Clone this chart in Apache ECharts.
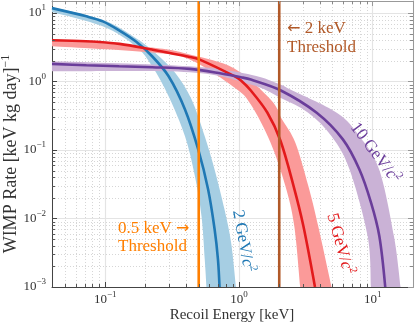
<!DOCTYPE html>
<html>
<head>
<meta charset="utf-8">
<script src="https://cdn.jsdelivr.net/npm/echarts@6.0.0/dist/echarts.min.js"></script>
<style>
html,body{margin:0;padding:0;background:#ffffff;}
#chart{width:415px;height:324px;}
</style>
</head>
<body>
<div id="chart"></div>
<script>
// ---------- values ----------
const X_MIN = 0.04, X_MAX = 20, Y_MIN = 0.001, Y_MAX = 15;
const xMinorTicks = [0.05,0.06,0.07,0.08,0.09,0.2,0.3,0.4,0.5,0.6,0.7,0.8,0.9,2,3,4,5,6,7,8,9];
const yMinorTicks = [0.002,0.003,0.004,0.005,0.006,0.007,0.008,0.009,
                     0.02,0.03,0.04,0.05,0.06,0.07,0.08,0.09,
                     0.2,0.3,0.4,0.5,0.6,0.7,0.8,0.9,
                     2,3,4,5,6,7,8,9];
const thresholds = [0.5, 2];

// 2 GeV/c^2
const blueE = [0.04, 0.0722, 0.0958, 0.127, 0.1688, 0.2242, 0.2977, 0.3948, 0.4956, 0.5875, 0.6573, 0.6963, 0.7154];
const blueR = [11.8, 8.95, 7.57, 5.6, 3.87, 2.34, 1.195, 0.391, 0.102, 0.0267, 0.00696, 0.00254, 0.001];
const blueHiE = [0.04, 0.0958, 0.1688, 0.237, 0.333, 0.4424, 0.5546, 0.657, 0.779, 0.873, 0.950];
const blueHiR = [12.2, 8.0, 4.34, 2.62, 1.34, 0.546, 0.159, 0.0521, 0.0136, 0.00445, 0.001];
const blueLoE = [0.04, 0.0958, 0.1688, 0.2242, 0.2977, 0.3948, 0.468, 0.5243, 0.5546, 0.571];
const blueLoR = [10.4, 6.4, 3.27, 1.67, 0.611, 0.159, 0.0416, 0.0109, 0.00254, 0.001];

// 5 GeV/c^2
const redE = [0.04, 0.0718, 0.128, 0.224, 0.43, 0.509, 0.923, 1.035, 1.226, 1.628, 2.04, 2.56, 3.03, 3.70];
const redR = [4.0, 3.87, 3.55, 2.93, 2.29, 2.09, 1.2, 1.034, 0.739, 0.353, 0.138, 0.0298, 0.00778, 0.001];
const redHiE = [0.04, 0.224, 0.428, 0.923, 1.723, 2.10, 2.64, 3.30, 3.91, 4.92];
const redHiR = [4.19, 3.13, 2.48, 1.55, 0.546, 0.279, 0.128, 0.0298, 0.00778, 0.001];
const redLoE = [0.04, 0.224, 0.428, 0.923, 1.226, 1.723, 2.223, 2.59, 2.87];
const redLoR = [3.27, 2.65, 2.09, 0.818, 0.462, 0.128, 0.0298, 0.00778, 0.001];

// 10 GeV/c^2
const purpleE = [0.04, 0.0723, 0.127, 0.224, 0.428, 0.736, 1.035, 1.226, 2.04, 3.81, 5.98, 7.95, 9.71, 11.2, 12.4];
const purpleR = [1.81, 1.73, 1.67, 1.62, 1.53, 1.31, 1.155, 1.07, 0.747, 0.35, 0.143, 0.0521, 0.0171, 0.00556, 0.001];
const purpleHiE = [0.04, 0.428, 1.226, 2.04, 2.42, 5.38, 7.95, 11.17, 14.4, 16.15];
const purpleHiR = [1.98, 1.67, 1.26, 0.904, 0.764, 0.35, 0.159, 0.0521, 0.00556, 0.001];
const purpleLoE = [0.04, 0.428, 1.226, 2.04, 3.29, 4.92, 6.71, 9.16, 9.70];
const purpleLoR = [1.41, 1.37, 0.904, 0.579, 0.35, 0.159, 0.0521, 0.00556, 0.001];

// ---------- styling ----------
const FONT = "'Liberation Serif', 'Times New Roman', serif";
const ARROW_FONT = "'DejaVu Sans', sans-serif";
const TXT = '#333333';
const C = {
  blue: '#1f78b4', blueBand: '#a6cee3',
  red: '#e31a1c', redBand: '#fb9a99',
  purple: '#6a3d9a', purpleBand: '#cab2d6',
  orange: '#ff7f00', brown: '#b15928'
};

const zip = (a, b) => a.map((v, i) => [v, b[i]]);

function smoothSegs(pts) {
  let d = '';
  for (let i = 0; i < pts.length - 1; i++) {
    const p0 = pts[Math.max(i - 1, 0)], p1 = pts[i], p2 = pts[i + 1], p3 = pts[Math.min(i + 2, pts.length - 1)];
    const c1 = [p1[0] + (p2[0] - p0[0]) / 6, p1[1] + (p2[1] - p0[1]) / 6];
    const c2 = [p2[0] - (p3[0] - p1[0]) / 6, p2[1] - (p3[1] - p1[1]) / 6];
    d += ' C' + c1[0] + ',' + c1[1] + ' ' + c2[0] + ',' + c2[1] + ' ' + p2[0] + ',' + p2[1];
  }
  return d;
}
function bandSeries(hiE, hiR, loE, loR, color) {
  return {
    type: 'custom', coordinateSystem: 'cartesian2d', z: 2, silent: true, clip: true,
    data: [[1, 1]],
    renderItem: function (params, api) {
      const hi = hiE.map((e, i) => api.coord([e, hiR[i]]));
      const lo = loE.map((e, i) => api.coord([e, loR[i]])).reverse();
      const d = 'M' + hi[0][0] + ',' + hi[0][1] + smoothSegs(hi) +
                ' L' + lo[0][0] + ',' + lo[0][1] + smoothSegs(lo) + ' Z';
      return { type: 'path', shape: { pathData: d }, style: { fill: color, stroke: null } };
    }
  };
}
function curveSeries(name, E, R, color) {
  return {
    name: name, type: 'line', data: zip(E, R), smooth: 0.33, showSymbol: false, symbol: 'none',
    z: 3, silent: true, clip: true, lineStyle: { color: color, width: 2.6 }
  };
}
function thresholdSeries(x, color) {
  return {
    type: 'line', data: [[x, Y_MIN], [x, Y_MAX]], showSymbol: false, symbol: 'none',
    z: 4, silent: true, lineStyle: { color: color, width: 2.6 }
  };
}
function seg(x1, y1, x2, y2, color, dash) {
  return { type: 'line', shape: { x1: x1, y1: y1, x2: x2, y2: y2 },
           style: { stroke: color, lineWidth: 1, lineDash: dash || null } };
}
const minorGrid = {
  type: 'custom', coordinateSystem: 'cartesian2d', z: 1, silent: true, data: [[1, 1]],
  renderItem: function (params, api) {
    const ch = [];
    xMinorTicks.forEach(v => {
      const b = api.coord([v, Y_MIN]), t = api.coord([v, Y_MAX]);
      ch.push(seg(Math.round(b[0]) + 0.5, b[1], Math.round(t[0]) + 0.5, t[1], '#d6d6d6', [1, 2]));
    });
    yMinorTicks.forEach(v => {
      const l = api.coord([X_MIN, v]), r = api.coord([X_MAX, v]);
      ch.push(seg(l[0], Math.round(l[1]) + 0.5, r[0], Math.round(r[1]) + 0.5, '#d6d6d6', [1, 2]));
    });
    return { type: 'group', children: ch };
  }
};
const minorTicks = {
  type: 'custom', coordinateSystem: 'cartesian2d', z: 6, silent: true, data: [[1, 1]],
  renderItem: function (params, api) {
    const ch = [], L = 3;
    xMinorTicks.forEach(v => {
      const b = api.coord([v, Y_MIN]), t = api.coord([v, Y_MAX]);
      const x = Math.round(b[0]) + 0.5;
      ch.push(seg(x, b[1], x, b[1] - L, '#555'));
      ch.push(seg(x, t[1], x, t[1] + L, '#888'));
    });
    yMinorTicks.forEach(v => {
      const l = api.coord([X_MIN, v]), r = api.coord([X_MAX, v]);
      const y = Math.round(l[1]) + 0.5;
      ch.push(seg(l[0], y, l[0] + L, y, '#555'));
      ch.push(seg(r[0], y, r[0] - L, y, '#888'));
    });
    return { type: 'group', children: ch };
  }
};

function powLabel(v) {
  const k = Math.round(Math.log10(v));
  if (Math.abs(Math.log10(v) - k) > 1e-6) return '';
  return '{b|10}{s|' + (k < 0 ? '\u2212' + (-k) : k) + '}';
}
const labelRich = {
  b: { fontSize: 13, lineHeight: 19, fontFamily: FONT, color: TXT },
  s: { fontSize: 9, lineHeight: 5, verticalAlign: 'top', fontFamily: FONT, color: TXT }
};
const annRich = (color) => ({
  a: { fontSize: 17, lineHeight: 22, fontFamily: FONT, fill: color },
  i: { fontSize: 17, lineHeight: 22, fontFamily: FONT, fontStyle: 'italic', fill: color },
  s: { fontSize: 11, lineHeight: 6, verticalAlign: 'top', fontFamily: FONT, fill: color },
  r: { fontSize: 16, lineHeight: 22, fontFamily: ARROW_FONT, fill: color }
});

const chart = echarts.init(document.getElementById('chart'), null, { renderer: 'canvas' });
chart.setOption({
  animation: false,
  backgroundColor: '#ffffff',
  grid: { left: 52, right: 2, top: 1, bottom: 37, containLabel: false, outerBoundsMode: 'none' },
  xAxis: [{
    type: 'log', logBase: 10, min: X_MIN, max: X_MAX, position: 'bottom',
    axisLine: { show: true, onZero: false, lineStyle: { color: '#444', width: 1 } },
    axisTick: { show: true, inside: true, length: 5, lineStyle: { color: '#444' } },
    axisLabel: { formatter: powLabel, rich: labelRich, margin: 3, showMinLabel: false, showMaxLabel: false },
    splitLine: { show: true, lineStyle: { color: '#e4e4e4', width: 1.2 } }
  }, {
    type: 'log', logBase: 10, min: X_MIN, max: X_MAX, position: 'top',
    axisLine: { show: true, onZero: false, lineStyle: { color: '#999', width: 1 } },
    axisTick: { show: true, inside: true, length: 5, lineStyle: { color: '#999' } },
    axisLabel: { show: false }, splitLine: { show: false }
  }],
  yAxis: [{
    type: 'log', logBase: 10, min: Y_MIN, max: Y_MAX, position: 'left',
    axisLine: { show: true, onZero: false, lineStyle: { color: '#444', width: 1 } },
    axisTick: { show: true, inside: true, length: 5, lineStyle: { color: '#444' } },
    axisLabel: { formatter: powLabel, rich: labelRich, margin: 6, showMaxLabel: false },
    splitLine: { show: true, lineStyle: { color: '#e4e4e4', width: 1.2 } }
  }, {
    type: 'log', logBase: 10, min: Y_MIN, max: Y_MAX, position: 'right',
    axisLine: { show: true, onZero: false, lineStyle: { color: '#999', width: 1 } },
    axisTick: { show: true, inside: true, length: 5, lineStyle: { color: '#999' } },
    axisLabel: { show: false }, splitLine: { show: false }
  }],
  series: [
    minorGrid,
    bandSeries(blueHiE, blueHiR, blueLoE, blueLoR, C.blueBand),
    bandSeries(redHiE, redHiR, redLoE, redLoR, C.redBand),
    bandSeries(purpleHiE, purpleHiR, purpleLoE, purpleLoR, C.purpleBand),
    curveSeries('2 GeV', blueE, blueR, C.blue),
    curveSeries('5 GeV', redE, redR, C.red),
    curveSeries('10 GeV', purpleE, purpleR, C.purple),
    thresholdSeries(thresholds[0], C.orange),
    thresholdSeries(thresholds[1], C.brown),
    minorTicks
  ],
  graphic: [
    { type: 'text', x: 232, y: 315, z: 10,
      style: { text: 'Recoil Energy [keV]', font: '15px ' + FONT, fill: TXT, align: 'center', verticalAlign: 'middle' } },
    { type: 'text', x: 11, y: 154, rotation: Math.PI / 2, z: 10,
      style: { text: '{a|WIMP Rate [keV kg day]}{s|\u22121}', align: 'center', verticalAlign: 'middle',
        rich: { a: { fontSize: 18, lineHeight: 22, fontFamily: FONT, fill: TXT },
                s: { fontSize: 12, lineHeight: 6, verticalAlign: 'top', fontFamily: FONT, fill: TXT } } } },
    { type: 'text', x: 118, y: 229, z: 10,
      style: { text: '{a|0.5 keV }{r|\u2192}', align: 'left', verticalAlign: 'middle', rich: annRich(C.orange) } },
    { type: 'text', x: 118, y: 247, z: 10,
      style: { text: 'Threshold', font: '17px ' + FONT, fill: C.orange, align: 'left', verticalAlign: 'middle' } },
    { type: 'text', x: 287, y: 29, z: 10,
      style: { text: '{r|\u2190}{a| 2 keV}', align: 'left', verticalAlign: 'middle', rich: annRich(C.brown) } },
    { type: 'text', x: 287, y: 48, z: 10,
      style: { text: 'Threshold', font: '17px ' + FONT, fill: C.brown, align: 'left', verticalAlign: 'middle' } },
    { type: 'text', x: 243, y: 241, rotation: -1.39, z: 10,
      style: { text: '{a|2 GeV/}{i|c}{s|2}', align: 'center', verticalAlign: 'middle', rich: annRich(C.blue) } },
    { type: 'text', x: 340, y: 244, rotation: -1.30, z: 10,
      style: { text: '{a|5 GeV/}{i|c}{s|2}', align: 'center', verticalAlign: 'middle', rich: annRich(C.red) } },
    { type: 'text', x: 375, y: 153, rotation: -0.925, z: 10,
      style: { text: '{a|10 GeV/}{i|c}{s|2}', align: 'center', verticalAlign: 'middle', rich: annRich(C.purple) } }
  ]
});
</script>
</body>
</html>
